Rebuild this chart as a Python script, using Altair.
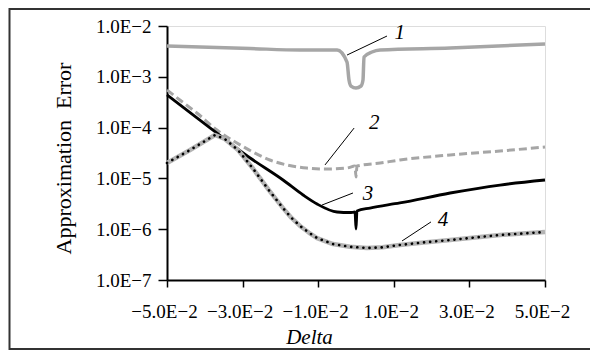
import altair as alt
import pandas as pd

# ---- data ----
# curve 1 (grey solid)
c1_x = [-0.05, -0.028, -0.0148, -0.0050, -0.00238, -0.00185, -0.00132, 0.0, 0.00132, 0.00185, 0.00212, 0.00423, 0.00635, 0.0249, 0.05]
c1_y = [4.04e-3, 3.6e-3, 3.37e-3, 3.37e-3, 1.95e-3, 8.65e-4, 6.59e-4, 6.03e-4, 6.59e-4, 8.65e-4, 2.45e-3, 3.08e-3, 3.37e-3, 3.69e-3, 4.43e-3]
# curve 2 (grey dashed)
c2_x = [-0.05, -0.0466, -0.0421, -0.0368, -0.0315, -0.0273, -0.0228, -0.0183, -0.0130, -0.0077, -0.0024, -0.00026, 0.0, 0.00026, 0.0064, 0.0116, 0.0249, 0.0381, 0.05]
c2_y = [5.5e-4, 3.49e-4, 1.94e-4, 8.97e-5, 4.98e-5, 3.31e-5, 2.30e-5, 1.84e-5, 1.60e-5, 1.53e-5, 1.60e-5, 1.75e-5, 1.07e-5, 1.75e-5, 2.01e-5, 2.30e-5, 2.89e-5, 3.46e-5, 4.15e-5]
# curve 3 (black solid)
c3_x = [-0.05, -0.0413, -0.0280, -0.0193, -0.0140, -0.0103, -0.0050, -0.0016, -0.00026, 0.0, 0.00026, 0.0037, 0.0116, 0.0249, 0.0381, 0.05]
c3_y = [4.39e-4, 1.41e-4, 2.52e-5, 9.3e-6, 4.71e-6, 3.13e-6, 2.18e-6, 2.13e-6, 2.18e-6, 1.01e-6, 2.28e-6, 2.61e-6, 3.28e-6, 5.16e-6, 7.41e-6, 9.3e-6]
# curve 4 (dotted)
c4_x = [-0.05, -0.0439, -0.0373, -0.0347, -0.0312, -0.0272, -0.0230, -0.0193, -0.0170, -0.0148, -0.0125, -0.0103, -0.0061, -0.0016, 0.0029, 0.0070, 0.0116, 0.0180, 0.0249, 0.0381, 0.05]
c4_y = [2.01e-5, 3.62e-5, 7.15e-5, 5.97e-5, 3.62e-5, 1.55e-5, 5.8e-6, 2.6e-6, 1.65e-6, 1.16e-6, 8.6e-7, 6.7e-7, 5.1e-7, 4.5e-7, 4.27e-7, 4.4e-7, 4.89e-7, 5.5e-7, 6.12e-7, 7.69e-7, 8.81e-7]

# curve labels and their leader lines
lab_text = ["1", "2", "3", "4"]
lab_x = [0.0116, 0.0048, 0.0032, 0.0230]
lab_y = [7.3e-3, 1.23e-4, 4.93e-6, 1.52e-6]
lead_x1 = [-0.00238, -0.0082, -0.0090, 0.01217]
lead_y1 = [2.68e-3, 1.84e-5, 2.99e-6, 5.86e-7]
lead_x2 = [0.0082, -0.0005, -0.0008, 0.01984]
lead_y2 = [6.35e-3, 9.8e-5, 5.16e-6, 1.39e-6]

x_ticks = [-0.05, -0.03, -0.01, 0.01, 0.03, 0.05]
x_tick_labels = ["\u22125.0E\u22122", "\u22123.0E\u22122", "\u22121.0E\u22122", "1.0E\u22122", "3.0E\u22122", "5.0E\u22122"]
y_ticks = [1e-7, 1e-6, 1e-5, 1e-4, 1e-3, 1e-2]
y_tick_labels = ["1.0E\u22127", "1.0E\u22126", "1.0E\u22125", "1.0E\u22124", "1.0E\u22123", "1.0E\u22122"]

FONT = "Liberation Serif"
GREY = "#a6a6a6"


def label_expr(vals, labels, log=False):
    expr = "''"
    for v, l in reversed(list(zip(vals, labels))):
        if log:
            cond = f"abs(log(datum.value) - log({v})) < 0.1"
        else:
            cond = f"abs(datum.value - ({v})) < 0.001"
        expr = f"({cond}) ? '{l}' : {expr}"
    return expr


xscale = alt.Scale(domain=[-0.05, 0.05], nice=False, zero=False)
yscale = alt.Scale(type="log", domain=[1e-7, 1e-2], nice=False)

xaxis = alt.Axis(
    values=x_ticks, labelExpr=label_expr(x_ticks, x_tick_labels), title="Delta",
    titleFont=FONT, titleFontStyle="italic", titleFontWeight="normal", titleFontSize=21,
    titleColor="black", titleX=142, titleY=63, titleAlign="center", titleBaseline="alphabetic",
    labelFont=FONT, labelFontSize=19, labelColor="black", labelPadding=15, labelOffset=-3,
    labelFlush=False, labelOverlap=False,
    tickColor="black", tickSize=7, tickWidth=1.5, domainColor="black", domainWidth=2, grid=False,
)
yaxis = alt.Axis(
    values=y_ticks, labelExpr=label_expr(y_ticks, y_tick_labels, log=True),
    title="Approximation\u00a0\u00a0Error",
    titleFont=FONT, titleFontWeight="normal", titleFontSize=22, titleColor="black",
    titleX=-97, titleY=132, titleAngle=270, titleAlign="center", titleBaseline="alphabetic",
    labelFont=FONT, labelFontSize=19, labelColor="black", labelPadding=7,
    labelFlush=False, labelOverlap=False,
    tickColor="black", tickSize=9, tickWidth=1.5, domainColor="black", domainWidth=2, grid=False,
)


def X(field):
    return alt.X(field, type="quantitative", scale=xscale, axis=xaxis)


def Y(field):
    return alt.Y(field, type="quantitative", scale=yscale, axis=yaxis)


d1 = pd.DataFrame({"x": c1_x, "y": c1_y})
d2 = pd.DataFrame({"x": c2_x, "y": c2_y})
d3 = pd.DataFrame({"x": c3_x, "y": c3_y})
d4 = pd.DataFrame({"x": c4_x, "y": c4_y})
dl = pd.DataFrame({"t": lab_text, "x": lab_x, "y": lab_y})
dr = pd.DataFrame({"x": lead_x1, "y": lead_y1, "x2": lead_x2, "y2": lead_y2})

frame = alt.Chart(pd.DataFrame({"a": [0]})).mark_rect(
    fill=None, stroke="#333333", strokeWidth=2, clip=False
).encode(x=alt.value(-157.5), x2=alt.value(440), y=alt.value(-17), y2=alt.value(323))

l1 = alt.Chart(d1).mark_line(color=GREY, strokeWidth=3.5, strokeJoin="round", interpolate="monotone").encode(x=X("x"), y=Y("y"))
l2 = alt.Chart(d2).mark_line(color=GREY, strokeWidth=3, strokeDash=[8, 4], interpolate="monotone").encode(x=X("x"), y=Y("y"))
l3 = alt.Chart(d3).mark_line(color="black", strokeWidth=2.8, interpolate="monotone").encode(x=X("x"), y=Y("y"))
l4a = alt.Chart(d4).mark_line(color="#b4b4b4", strokeWidth=4.5, strokeJoin="round").encode(x=X("x"), y=Y("y"))
l4b = alt.Chart(d4).mark_line(color="black", strokeWidth=2.6, strokeDash=[0.1, 6], strokeCap="round").encode(x=X("x"), y=Y("y"))

leaders = alt.Chart(dr).mark_rule(color="black", strokeWidth=1).encode(
    x=X("x"), y=Y("y"), x2="x2", y2="y2"
)
labels = alt.Chart(dl).mark_text(
    font=FONT, fontSize=21, fontStyle="italic", color="black", align="center", baseline="middle"
).encode(x=X("x"), y=Y("y"), text="t")

chart = alt.layer(frame, l1, l2, l3, l4a, l4b, leaders, labels).properties(
    width=378, height=254,
    autosize=alt.AutoSizeParams(type="none"),
    padding={"left": 159, "top": 18, "right": 45, "bottom": 70},
).configure_view(stroke=None).configure(background="white")

chart.save("out.html", embed_options={"renderer": "svg", "actions": False})
